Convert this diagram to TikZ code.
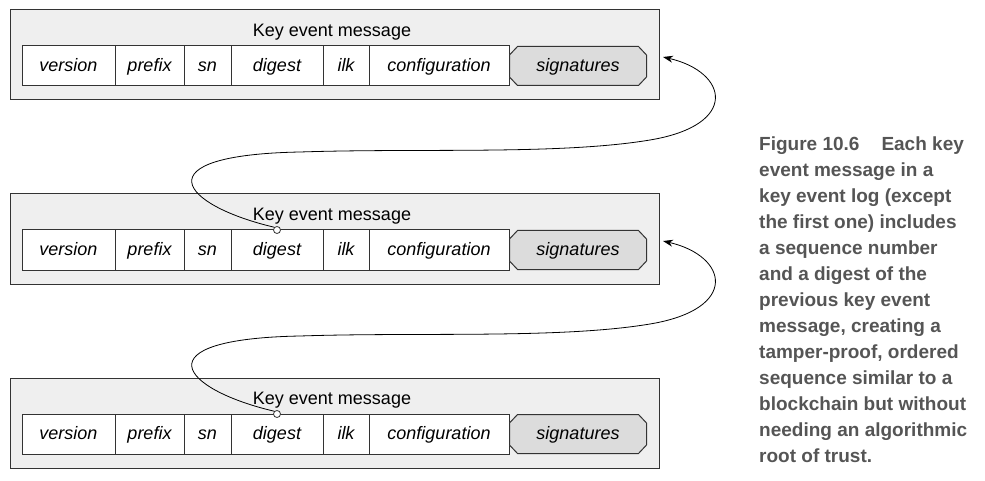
\documentclass[tikz,border=0pt]{standalone}
\usepackage{fontspec}
\setmainfont{Liberation Sans}
\usepackage{tikz}
\usetikzlibrary{arrows.meta, positioning}
\definecolor{kborder}{HTML}{333333}
\definecolor{kboxbg}{HTML}{EFEFEF}
\definecolor{ksigbg}{HTML}{DCDCDC}
\definecolor{kcaption}{HTML}{555555}
\tikzset{
  msgbox/.style={draw=kborder, fill=kboxbg, line width=1pt, inner sep=0pt, outer sep=0pt,
    minimum width=649pt, minimum height=90pt, anchor=north west},
  msgtitle/.style={font=\fontsize{18}{20}\selectfont, inner sep=0pt},
  field/.style={draw=kborder, fill=white, line width=1pt, inner sep=0pt, outer sep=0pt,
    minimum height=40pt, text height=14pt, text depth=3pt,
    font=\fontsize{18}{20}\selectfont\itshape},
  sigfield/.style={field, draw=none, fill=none,
    path picture={
      \draw[draw=kborder, fill=ksigbg, line width=1pt]
        ([xshift=8.5pt, yshift=-0.5pt]path picture bounding box.north west)
        -- ([xshift=-8.5pt, yshift=-0.5pt]path picture bounding box.north east)
        -- ([xshift=-0.5pt, yshift=-9pt]path picture bounding box.north east)
        -- ([xshift=-0.5pt, yshift=9pt]path picture bounding box.south east)
        -- ([xshift=-8.5pt, yshift=0.5pt]path picture bounding box.south east)
        -- ([xshift=8.5pt, yshift=0.5pt]path picture bounding box.south west)
        -- ([xshift=0.5pt, yshift=9pt]path picture bounding box.south west)
        -- ([xshift=0.5pt, yshift=-9pt]path picture bounding box.north west)
        -- cycle;
    }},
  dotmark/.style={circle, draw=kborder, fill=white, line width=0.8pt, inner sep=0pt,
    minimum size=7pt},
  chainarrow/.style={draw=black, line width=0.8pt, -{Stealth[length=10pt, width=7pt]}},
  caption/.style={font=\fontsize{19}{26}\selectfont\bfseries, text=kcaption,
    align=left, inner sep=0pt, anchor=north west}
}
% #1 = name, #2 = top edge (pixels)
\newcommand{\keymsg}[2]{%
  \node[msgbox] (#1) at (10,#2) {};
  \node[msgtitle] (#1-title) at (332,#2+22) {Key event message};
  \node[field, minimum width=93pt, anchor=north west] (#1-ver) at (22,#2+36) {version};
  \node[field, minimum width=69pt, right=0pt of #1-ver] (#1-pre) {prefix};
  \node[field, minimum width=47pt, right=0pt of #1-pre] (#1-sn) {sn};
  \node[field, minimum width=92pt, right=0pt of #1-sn] (#1-dig) {digest};
  \node[field, minimum width=46pt, right=0pt of #1-dig] (#1-ilk) {ilk};
  \node[field, minimum width=140pt, right=0pt of #1-ilk] (#1-conf) {configuration};
  \node[sigfield, minimum width=138pt, right=0pt of #1-conf] (#1-sig) {signatures};
}

\begin{document}
\begin{tikzpicture}[x=1pt, y=-1pt]
  \useasboundingbox (0,0) rectangle (985,481);

  \keymsg{m1}{10}
  \keymsg{m2}{194}
  \keymsg{m3}{378}

  \node[dotmark] (m2-dot) at (m2-dig.north) {};
  \node[dotmark] (m3-dot) at (m3-dig.north) {};

  %% digest of each message points back to the previous one
  \foreach \from/\to/\yy in {m2/m1/0, m3/m2/184} {
    \draw[chainarrow] (\from-dot.north west)
      .. controls (180,205+\yy) and (140,155+\yy) .. (300,152+\yy)
      .. controls (420,148+\yy) and (560,155+\yy) .. (650,140+\yy)
      .. controls (740,125+\yy) and (728,72+\yy) .. ([xshift=4pt, yshift=-2pt]\to.east);
  }

  \node[caption] (cap) at (759,137) {%
    Figure 10.6\hspace{22pt}Each key\\
    event message in a\\
    key event log (except\\
    the first one) includes\\
    a sequence number\\
    and a digest of the\\
    previous key event\\
    message, creating a\\
    tamper-proof, ordered\\
    sequence similar to a\\
    blockchain but without\\
    needing an algorithmic\\
    root of trust.};

\end{tikzpicture}
\end{document}
